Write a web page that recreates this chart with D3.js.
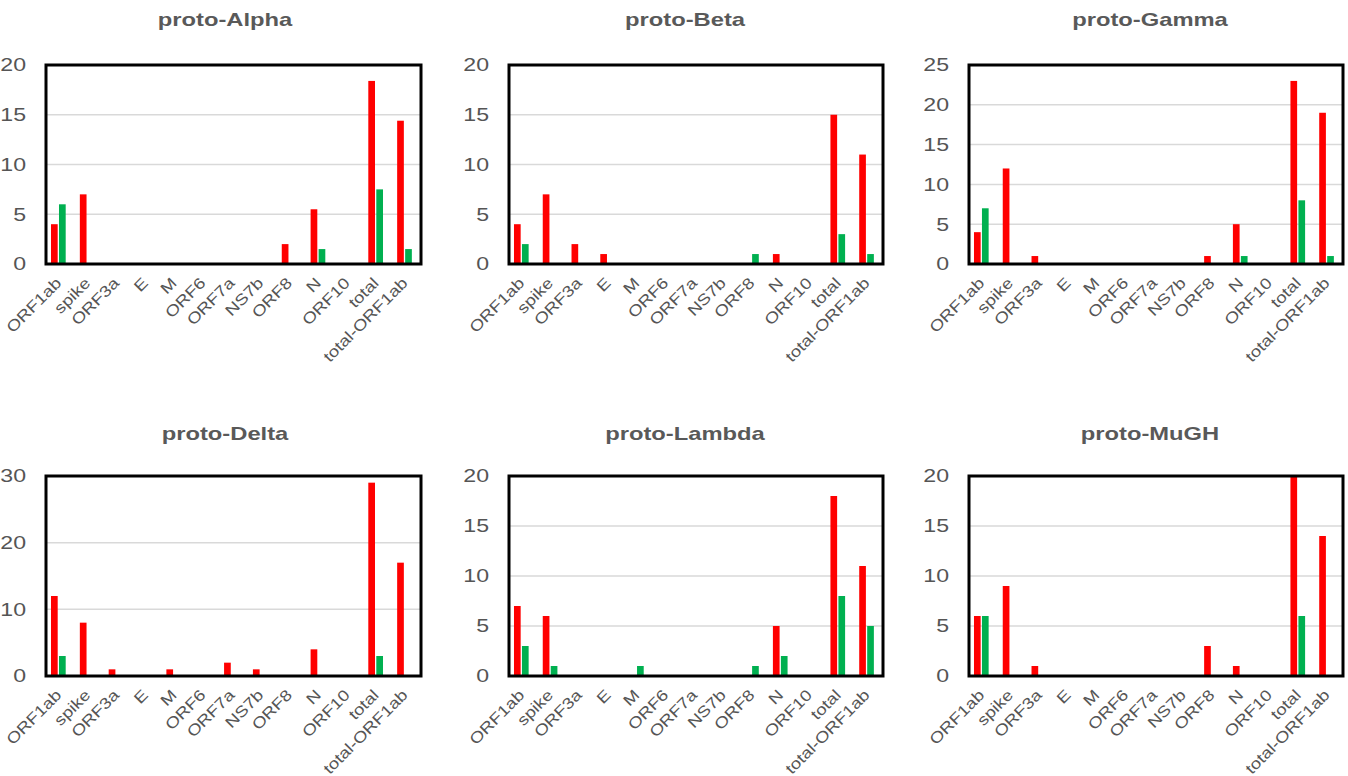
<!DOCTYPE html>
<html>
<head>
<meta charset="utf-8">
<script src="https://cdn.jsdelivr.net/npm/d3@7"></script>
<style>
  html, body { margin: 0; padding: 0; background: #fff; }
  svg { display: block; font-family: "Liberation Sans", Arial, Helvetica, sans-serif; }
</style>
</head>
<body>
<svg id="chart" width="1348" height="776"></svg>
<script>
// ---------- data ----------
const categories = ["ORF1ab", "spike", "ORF3a", "E", "M", "ORF6", "ORF7a", "NS7b", "ORF8", "N", "ORF10", "total", "total-ORF1ab"];
const panelTitles = ["proto-Alpha", "proto-Beta", "proto-Gamma", "proto-Delta", "proto-Lambda", "proto-MuGH"];
const seriesNames = ["red", "green"];
const seriesColors = ["#ff0000", "#00b050"];

const alphaRed    = [4, 7, 0, 0, 0, 0, 0, 0, 2, 5.5, 0, 18.4, 14.4];
const alphaGreen  = [6, 0, 0, 0, 0, 0, 0, 0, 0, 1.5, 0, 7.5, 1.5];
const betaRed     = [4, 7, 2, 1, 0, 0, 0, 0, 0, 1, 0, 15, 11];
const betaGreen   = [2, 0, 0, 0, 0, 0, 0, 0, 1, 0, 0, 3, 1];
const gammaRed    = [4, 12, 1, 0, 0, 0, 0, 0, 1, 5, 0, 23, 19];
const gammaGreen  = [7, 0, 0, 0, 0, 0, 0, 0, 0, 1, 0, 8, 1];
const deltaRed    = [12, 8, 1, 0, 1, 0, 2, 1, 0, 4, 0, 29, 17];
const deltaGreen  = [3, 0, 0, 0, 0, 0, 0, 0, 0, 0, 0, 3, 0];
const lambdaRed   = [7, 6, 0, 0, 0, 0, 0, 0, 0, 5, 0, 18, 11];
const lambdaGreen = [3, 1, 0, 0, 1, 0, 0, 0, 1, 2, 0, 8, 5];
const mughRed     = [6, 9, 1, 0, 0, 0, 0, 0, 3, 1, 0, 20, 14];
const mughGreen   = [6, 0, 0, 0, 0, 0, 0, 0, 0, 0, 0, 6, 0];

const alphaTicks  = [0, 5, 10, 15, 20];
const betaTicks   = [0, 5, 10, 15, 20];
const gammaTicks  = [0, 5, 10, 15, 20, 25];
const deltaTicks  = [0, 10, 20, 30];
const lambdaTicks = [0, 5, 10, 15, 20];
const mughTicks   = [0, 5, 10, 15, 20];

const panels = [
  { title: panelTitles[0], series: [alphaRed, alphaGreen], ticks: alphaTicks },
  { title: panelTitles[1], series: [betaRed, betaGreen], ticks: betaTicks },
  { title: panelTitles[2], series: [gammaRed, gammaGreen], ticks: gammaTicks },
  { title: panelTitles[3], series: [deltaRed, deltaGreen], ticks: deltaTicks },
  { title: panelTitles[4], series: [lambdaRed, lambdaGreen], ticks: lambdaTicks },
  { title: panelTitles[5], series: [mughRed, mughGreen], ticks: mughTicks }
];

// ---------- layout ----------
const colBox = [[46, 421], [509, 883], [969, 1343]];
const rowBox = [[65, 264], [476, 676]];
const titleX = [225, 685, 1150];
const titleY = [26, 440];
const stretch = 1.25;

const svg = d3.select("#chart");

panels.forEach((p, i) => {
  const col = i % 3, row = Math.floor(i / 3);
  const [x0p, x1p] = colBox[col];
  const [y0p, y1p] = rowBox[row];
  const g = svg.append("g");

  const ymax = p.ticks[p.ticks.length - 1];
  const y = d3.scaleLinear().domain([0, ymax]).range([y1p, y0p]);
  const x0 = d3.scaleBand().domain(categories).range([x0p, x1p]).padding(0);
  const x1 = d3.scaleBand().domain(seriesNames).range([0, x0.bandwidth()])
    .paddingInner(0.1625).paddingOuter(0.884).align(0.353);

  // gridlines
  g.append("g").selectAll("line")
    .data(p.ticks.filter(t => t > 0 && t < ymax))
    .join("line")
    .attr("x1", x0p).attr("x2", x1p)
    .attr("y1", d => y(d)).attr("y2", d => y(d))
    .attr("stroke", "#d9d9d9").attr("stroke-width", 1.5);

  // bars
  p.series.forEach((vals, si) => {
    g.append("g").selectAll("rect")
      .data(vals.map((v, ci) => ({ cat: categories[ci], v })).filter(d => d.v > 0))
      .join("rect")
      .attr("x", d => x0(d.cat) + x1(seriesNames[si]))
      .attr("width", x1.bandwidth())
      .attr("y", d => y(d.v))
      .attr("height", d => y(0) - y(d.v))
      .attr("fill", seriesColors[si]);
  });

  // frame
  g.append("rect")
    .attr("x", x0p).attr("y", y0p)
    .attr("width", x1p - x0p).attr("height", y1p - y0p)
    .attr("fill", "none").attr("stroke", "#000").attr("stroke-width", 3);

  // y tick labels
  const yAxis = d3.axisLeft(y).tickValues(p.ticks).tickSize(0).tickPadding(0);
  const ya = g.append("g").attr("transform", `translate(${x0p - 20},0)`).call(yAxis);
  ya.select(".domain").remove();
  ya.selectAll("text")
    .attr("x", 0)
    .attr("font-size", 18.5)
    .attr("fill", "#555")
    .attr("font-family", "Liberation Sans, Arial, sans-serif")
    .attr("text-anchor", "end")
    .attr("transform", `scale(${stretch},1)`);

  // x tick labels
  const xAxis = d3.axisBottom(x0).tickSize(0).tickPadding(0);
  const xa = g.append("g").attr("transform", `translate(0,${y1p})`).call(xAxis);
  xa.select(".domain").remove();
  xa.selectAll("text")
    .attr("y", 0).attr("dy", 0)
    .attr("font-size", 15.5)
    .attr("fill", "#555")
    .attr("font-family", "Liberation Sans, Arial, sans-serif")
    .attr("text-anchor", "end")
    .attr("transform", `translate(2,20) rotate(-45) scale(1.2,1)`);

  // title
  g.append("text")
    .attr("transform", `translate(${titleX[col]},${titleY[row]}) scale(${stretch},1)`)
    .attr("text-anchor", "middle")
    .attr("font-size", 19)
    .attr("font-weight", "bold")
    .attr("fill", "#595959")
    .text(p.title);
});
</script>
</body>
</html>
